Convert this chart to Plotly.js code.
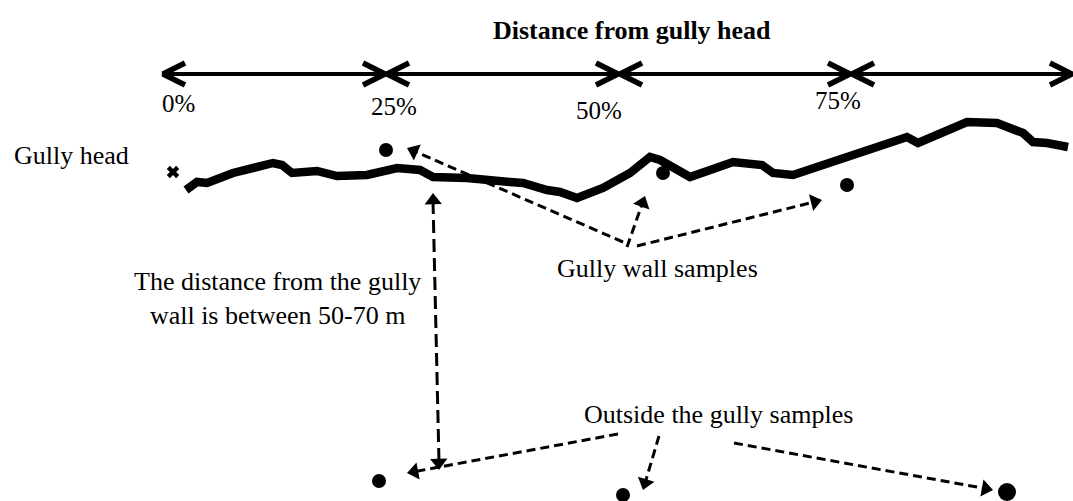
<!DOCTYPE html>
<html>
<head>
<meta charset="utf-8">
<script src="https://cdn.plot.ly/plotly-3.0.1.min.js"></script>
<style>html,body{margin:0;padding:0;background:#fff;}#chart{width:1073px;height:501px;}</style>
</head>
<body>
<div id="chart"></div>
<script>
// ---- Diagram data (drawing units = pixel grid of the schematic) ----
var distancePctLabels = ["0%", "25%", "50%", "75%"];
var distanceBoundaryX = [162, 386, 619, 851, 1073];
var distanceLabelX = [178, 394, 599, 838];
var distanceLabelY = [103, 106, 110, 100];

var gullyX = [186,197,207,233,273,282,292,317,337,367,397,420,433,467,510,523,547,560,577,603,630,650,660,690,733,762,773,793,907,918,967,997,1023,1033,1047,1068];
var gullyY = [190,182,183,173,163,165,173,171,176,175,168,170,177,178,182,183,190,192,198,188,173,157,160,177,162,165,173,175,137,143,122,123,133,142,143,147];

var gullyHeadX = [173];
var gullyHeadY = [172];

var wallSampleX = [386, 663, 847];
var wallSampleY = [150, 173, 185];

var outsideSampleX = [379, 623, 1007];
var outsideSampleY = [481, 495, 492];

// dashed pointer arrows (from label -> to sample)
var pointerFromX = [623, 627, 637, 618, 659, 734];
var pointerFromY = [242, 247, 246, 434, 436, 443];
var pointerToX   = [407, 645, 822, 407, 643, 993];
var pointerToY   = [148, 196, 200, 473, 490, 490];

// distance 50-70 m double-headed arrow
var spanX = [433, 439];
var spanY = [193, 470];

var textLabels = ["Gully head", "Gully wall samples", "The distance from the gully<br>wall is between 50-70 m", "Outside the gully samples"];
var textX = [71, 657, 277, 718];
var textY = [155, 268, 298, 414];

// ---- build traces ----
var FONT = "Liberation Serif, Times New Roman, serif";
var traces = [];
var annotations = [];

// top distance arrows: shaft + chevrons
var shaftX = [], shaftY = [], chevX = [], chevY = [];
var topY = 74, chevL = 22, chevH = 11;
for (var i = 0; i < distanceBoundaryX.length - 1; i++) {
  var a = distanceBoundaryX[i] + 1, b = distanceBoundaryX[i + 1] - 1;
  shaftX.push(a, b, null); shaftY.push(topY, topY, null);
  chevX.push(a + chevL, a, a + chevL, null); chevY.push(topY - chevH, topY, topY + chevH, null);
  chevX.push(b - chevL, b, b - chevL, null); chevY.push(topY - chevH, topY, topY + chevH, null);
}
traces.push({x: shaftX, y: shaftY, mode: "lines", line: {color: "#000", width: 4}, hoverinfo: "skip"});
traces.push({x: chevX, y: chevY, mode: "lines", line: {color: "#000", width: 5.5}, hoverinfo: "skip"});

// gully profile
traces.push({x: gullyX, y: gullyY, mode: "lines", line: {color: "#000", width: 8.5}, hoverinfo: "skip"});

// gully head mark
traces.push({x: gullyHeadX, y: gullyHeadY, mode: "markers", marker: {symbol: "x", size: 11, color: "#000", opacity: 1, line: {width: 0}}, hoverinfo: "skip"});

// samples
traces.push({x: wallSampleX, y: wallSampleY, mode: "markers", marker: {symbol: "circle", size: 14, color: "#000", opacity: 1, line: {width: 0}}, hoverinfo: "skip"});
traces.push({x: outsideSampleX.slice(0, 2), y: outsideSampleY.slice(0, 2), mode: "markers", marker: {symbol: "circle", size: 14, color: "#000", opacity: 1, line: {width: 0}}, hoverinfo: "skip"});
traces.push({x: outsideSampleX.slice(2), y: outsideSampleY.slice(2), mode: "markers", marker: {symbol: "circle", size: 18, color: "#000", opacity: 1, line: {width: 0}}, hoverinfo: "skip"});

// arrowheads helper
var headX = [], headY = [], headAng = [];
var HEAD = 15;
function addHead(fx, fy, tx, ty) {
  var dx = tx - fx, dy = ty - fy, L = Math.sqrt(dx * dx + dy * dy);
  var ux = dx / L, uy = dy / L, r = HEAD / 2;
  headX.push(tx - ux * r); headY.push(ty - uy * r);
  headAng.push(Math.atan2(dx, -dy) * 180 / Math.PI);
}

// dashed pointers
var dX = [], dY = [];
for (var k = 0; k < pointerFromX.length; k++) {
  var fx = pointerFromX[k], fy = pointerFromY[k], tx = pointerToX[k], ty = pointerToY[k];
  var L = Math.hypot(tx - fx, ty - fy);
  var ex = tx - (tx - fx) / L * 10, ey = ty - (ty - fy) / L * 10;
  dX.push(fx, ex, null); dY.push(fy, ey, null);
  addHead(fx, fy, tx, ty);
}
traces.push({x: dX, y: dY, mode: "lines", line: {color: "#000", width: 3, dash: "9px,5px"}, hoverinfo: "skip"});

// span arrow (longer dashes)
traces.push({x: spanX, y: [spanY[0] + 8, spanY[1] - 8], mode: "lines", line: {color: "#000", width: 3, dash: "13px,6px"}, hoverinfo: "skip"});
addHead(spanX[1], spanY[1], spanX[0], spanY[0]);
addHead(spanX[0], spanY[0], spanX[1], spanY[1]);

traces.push({x: headX, y: headY, mode: "markers", marker: {symbol: "triangle-up", size: HEAD, angle: headAng, color: "#000", opacity: 1, line: {width: 0}}, hoverinfo: "skip"});

// texts
annotations.push({x: 632, y: 30, xref: "x", yref: "y", text: "<b>Distance from gully head</b>", showarrow: false, font: {family: FONT, size: 26, color: "#000"}});
for (var p = 0; p < distancePctLabels.length; p++) {
  annotations.push({x: distanceLabelX[p], y: distanceLabelY[p], xref: "x", yref: "y", text: distancePctLabels[p], showarrow: false, font: {family: FONT, size: 25, color: "#000"}});
}
for (var t = 0; t < textLabels.length; t++) {
  annotations.push({x: textX[t], y: textY[t], xref: "x", yref: "y", text: textLabels[t], showarrow: false, align: "center", font: {family: FONT, size: 26, color: "#000"}});
}

var layout = {
  width: 1073, height: 501,
  margin: {l: 0, r: 0, t: 0, b: 0, pad: 0},
  paper_bgcolor: "#fff", plot_bgcolor: "#fff",
  showlegend: false,
  xaxis: {range: [0, 1073], visible: false, fixedrange: true},
  yaxis: {range: [501, 0], visible: false, fixedrange: true},
  annotations: annotations
};
Plotly.newPlot("chart", traces, layout, {displayModeBar: false, staticPlot: true});
</script>
</body>
</html>
